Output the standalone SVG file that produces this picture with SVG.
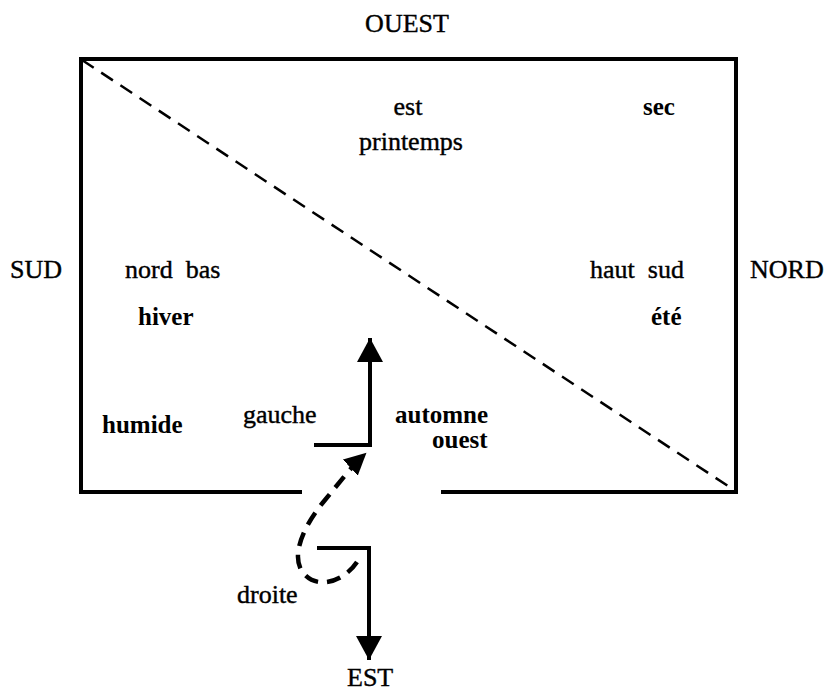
<svg xmlns="http://www.w3.org/2000/svg" width="830" height="691" viewBox="0 0 830 691">
<style>
text{font-family:"Liberation Serif","Times New Roman",serif;font-size:26px;fill:#000}
.b{font-weight:bold;font-size:25px}
.r{stroke:#000;stroke-width:0.4}
.line{stroke:#000;stroke-width:4;fill:none;stroke-linecap:square}
.dash{stroke:#000;stroke-width:2.5;fill:none;stroke-dasharray:14 9}
.bdash{stroke:#000;stroke-width:4.5;fill:none;stroke-dasharray:14 9}
</style>
<defs>
<marker id="ah" markerUnits="userSpaceOnUse" markerWidth="26" markerHeight="26" refX="22" refY="13" orient="auto"><path d="M0,0 L24,13 L0,26 Z" fill="#000"/></marker>
<marker id="ah2" markerUnits="userSpaceOnUse" markerWidth="24" markerHeight="22" refX="20" refY="11" orient="auto"><path d="M0,0 L22,11 L0,22 Z" fill="#000"/></marker>
</defs>
<g id="frame">
<path class="line" d="M300,492 L81,492 L81,59 L736,59 L736,492 L443,492"/>
</g>
<g id="connectors">
<path id="diagonal" class="dash" d="M82,60 L734,490"/>
<path id="up-arrow" class="line" d="M316,445 L370,445 L370,340" marker-end="url(#ah)"/>
<path id="down-arrow" class="line" d="M319,548 L369,548 L369,658" marker-end="url(#ah)"/>
<path id="loop" class="bdash" d="M357,562 C345,580 320,590 305,575 C290,560 300,530 325,500 C340,482 352,466 365,454" marker-end="url(#ah2)"/>
</g>
<g id="n-ouest"><text class="r" x="407" y="32" text-anchor="middle">OUEST</text></g>
<g id="n-est"><text class="r" x="408" y="115" text-anchor="middle">est</text></g>
<g id="n-printemps"><text class="r" x="411" y="150" text-anchor="middle">printemps</text></g>
<g id="n-sec"><text class="b" x="643" y="115">sec</text></g>
<g id="n-sud"><text class="r" x="10" y="278">SUD</text></g>
<g id="n-nordbas"><text class="r" x="125" y="278" xml:space="preserve">nord  bas</text></g>
<g id="n-hiver"><text class="b" x="138" y="325">hiver</text></g>
<g id="n-hautsud"><text class="r" x="590" y="278" xml:space="preserve">haut  sud</text></g>
<g id="n-nord"><text class="r" x="750" y="278">NORD</text></g>
<g id="n-ete"><text class="b" x="651" y="325">été</text></g>
<g id="n-gauche"><text class="r" x="243" y="423">gauche</text></g>
<g id="n-automne"><text class="b" x="395" y="423">automne</text></g>
<g id="n-humide"><text class="b" x="102" y="433">humide</text></g>
<g id="n-ouest2"><text class="b" x="432" y="448">ouest</text></g>
<g id="n-droite"><text class="r" x="237" y="603">droite</text></g>
<g id="n-EST"><text class="r" x="347" y="686">EST</text></g>
</svg>
